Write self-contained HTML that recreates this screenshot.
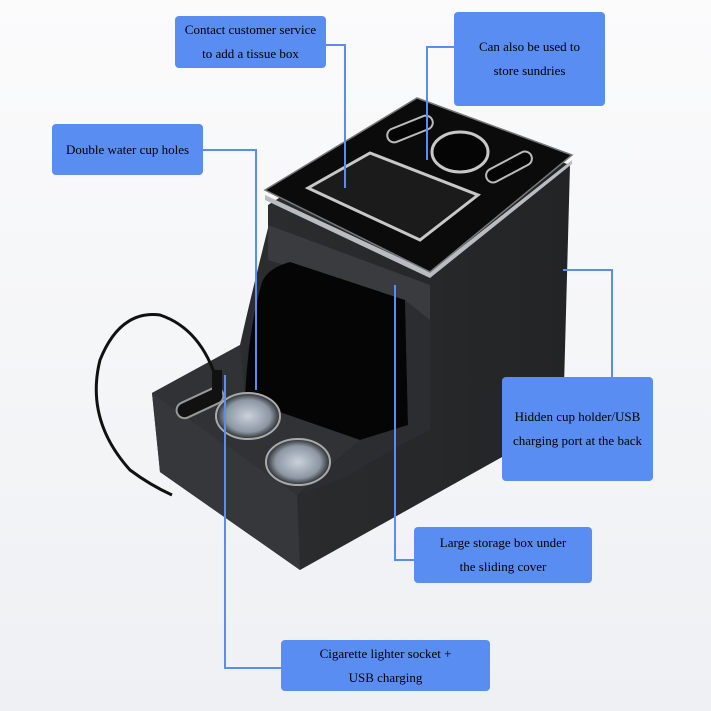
<!DOCTYPE html>
<html><head><style>
body{margin:0;width:711px;height:711px;background:linear-gradient(#fbfbfc,#eef0f3);position:relative;overflow:hidden;font-family:"Liberation Serif",serif;}
.b{position:absolute;background:#5a8df2;border-radius:4px;color:#000;font-size:13px;text-align:center;display:flex;align-items:center;justify-content:center;line-height:24px;}
svg{position:absolute;left:0;top:0}
</style></head><body>
<svg width="711" height="711" viewBox="0 0 711 711">
<defs>
<linearGradient id="rf" x1="0" x2="1"><stop offset="0" stop-color="#2e2f31"/><stop offset="1" stop-color="#232426"/></linearGradient>
<radialGradient id="cup"><stop offset="0" stop-color="#c9d2dc"/><stop offset="0.7" stop-color="#8d97a3"/><stop offset="1" stop-color="#2a2b2d"/></radialGradient>
</defs>
<path d="M152,393 L240,345 Q250,300 268,228 L268,205 L417,110 L570,165 L563,423 L300,570 L160,472 Z" fill="url(#rf)"/>
<path d="M268,225 L430,285 L430,320 L400,300 L268,260 Z" fill="#3a3b3e"/>
<path d="M262,282 Q268,268 290,262 L405,300 L408,425 L360,440 L245,400 Q248,330 262,282 Z" fill="#050505"/>
<path d="M405,300 L430,320 L430,430 Q380,455 350,475 L300,495 L360,440 L408,425 Z" fill="#2c2d30"/>
<path d="M152,393 L297,495 L300,570 L160,472 Z" fill="#36373a"/>
<path d="M152,393 L240,345 L245,400 L360,440 L297,495 Z" fill="#313235"/>
<path d="M265,200 L430,278 L572,164 L572,160 L430,272 L265,195 Z" fill="#b9bcc0"/>
<path d="M265,190 L417,98 L572,155 L430,272 Z" fill="#0b0b0c" stroke="#777" stroke-width="1.5"/>
<path d="M308,188 L370,153 L478,195 L420,240 Z" fill="#1b1b1c" stroke="#c8c8c8" stroke-width="3"/>
<ellipse cx="460" cy="152" rx="28" ry="20" fill="#050505" stroke="#c8c8c8" stroke-width="3"/>
<rect x="386" y="122" width="48" height="14" rx="7" transform="rotate(-22 410 129)" fill="#050505" stroke="#bbb" stroke-width="2"/>
<rect x="484" y="160" width="50" height="14" rx="7" transform="rotate(-28 509 167)" fill="#050505" stroke="#bbb" stroke-width="2"/>
<ellipse cx="248" cy="416" rx="32" ry="23" fill="url(#cup)" stroke="#aaa" stroke-width="2"/>
<ellipse cx="298" cy="462" rx="32" ry="23" fill="url(#cup)" stroke="#aaa" stroke-width="2"/>
<rect x="175" y="395" width="50" height="16" rx="8" transform="rotate(-25 200 403)" fill="#111" stroke="#999" stroke-width="2"/>
<path d="M220,392 Q205,330 160,315 Q120,310 100,360 Q85,420 130,470 Q150,485 172,495" fill="none" stroke="#111" stroke-width="3"/>
<rect x="212" y="370" width="10" height="26" fill="#111"/>
<g fill="none" stroke="#5a8df2" stroke-width="2">
<path d="M326,45 H345 V188"/>
<path d="M454,47 H427 V160"/>
<path d="M202,150 H256 V390"/>
<path d="M563,270 H612 V377"/>
<path d="M414,560 H395 V285"/>
<path d="M281,668 H225 V375"/>
</g>
</svg>
<div class="b" style="left:175px;top:16px;width:151px;height:52px">Contact customer service<br>to add a tissue box</div>
<div class="b" style="left:454px;top:12px;width:151px;height:94px">Can also be used to<br>store sundries</div>
<div class="b" style="left:52px;top:124px;width:151px;height:51px">Double water cup holes</div>
<div class="b" style="left:502px;top:377px;width:151px;height:104px">Hidden cup holder/USB<br>charging port at the back</div>
<div class="b" style="left:414px;top:527px;width:178px;height:56px">Large storage box under<br>the sliding cover</div>
<div class="b" style="left:281px;top:640px;width:209px;height:51px">Cigarette lighter socket +<br>USB charging</div>
</body></html>
